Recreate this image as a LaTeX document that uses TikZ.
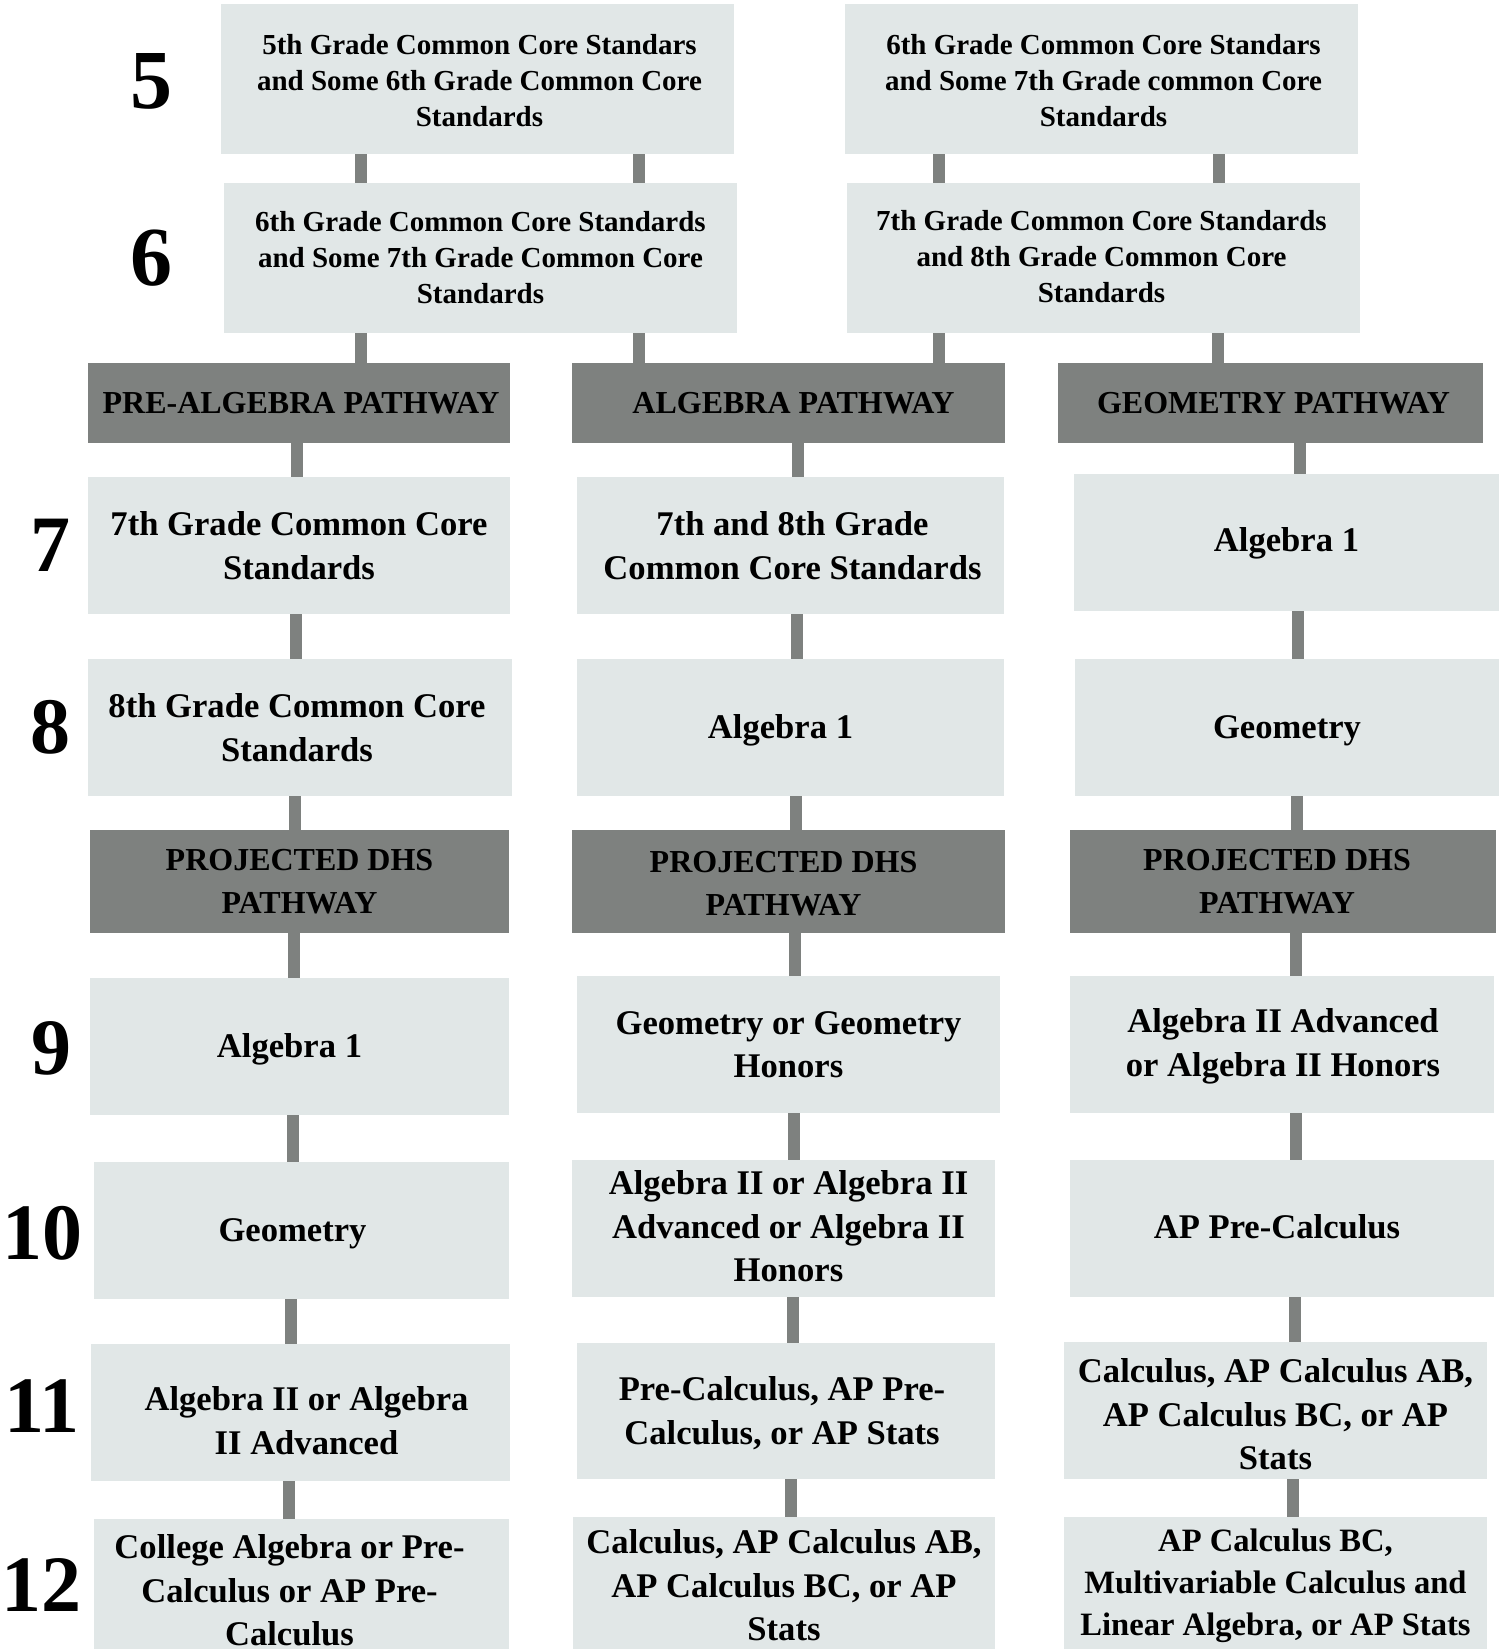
\documentclass[tikz,border=0pt]{standalone}
\usepackage{fontspec}
\setmainfont{Liberation Serif}
\definecolor{lightc}{HTML}{E1E7E7}
\definecolor{darkc}{HTML}{7E817F}
\tikzset{
  lbox/.style={fill=lightc, inner sep=0pt},
  dbox/.style={fill=darkc, inner sep=0pt},
  sfill/.style={lbox}, bfill/.style={lbox}, bsfill/.style={lbox}, hfill/.style={dbox},
  txt/.style={inner sep=0pt, align=center, text=black},
  stxt/.style={txt, font=\fontsize{14.5}{18}\selectfont\bfseries},
  btxt/.style={txt, font=\fontsize{17.3}{21.75}\selectfont\bfseries},
  bstxt/.style={txt, font=\fontsize{16.3}{21}\selectfont\bfseries},
  htxt/.style={txt, font=\fontsize{16}{21.5}\selectfont\bfseries},
  num/.style={inner sep=0pt, text=black, font=\fontsize{40}{40}\selectfont\bfseries},
  numl/.style={inner sep=0pt, text=black, font=\fontsize{42}{42}\selectfont\bfseries},
  conn/.style={draw=darkc, line width=6pt},
}
% \bx{name}{x1}{y1}{x2}{y2}{kind}{text}{dx}{dy}
\newcommand\bx[9]{%
  \node[#6fill, minimum width={(#4-#2)*0.5pt}, minimum height={(#5-#3)*0.5pt}] (#1) at ({(#2+#4)/2},{(#3+#5)/2}) {};
  \node[#6txt] (#1t) at ([shift={(#8,#9)}]#1.center) {#7};}
\newcommand\cn[3]{\path (#3,0) coordinate (cx); \draw[conn] (#1.south -| cx) -- (#2.north -| cx);}
\begin{document}
\begin{tikzpicture}[x=0.5pt, y=-0.5pt]
\useasboundingbox (0,0) rectangle (1502,1649);
\clip (0,0) rectangle (1502,1649);
% grade numbers
\node[numl] (n5) at (151,81) {5};
\node[numl] (n6) at (151,258) {6};
\node[num] (n7) at (51,545) {7};
\node[num] (n8) at (51,727) {8};
\node[num] (n9) at (52,1048) {9};
\node[num] (n10) at (43,1233) {10};
\node[num] (n11) at (42,1406) {11};
\node[num] (n12) at (42,1585) {12};
% rows 5 and 6
\bx{b5L}{221}{4}{734}{154}{s}{5th Grade Common Core Standars\\and Some 6th Grade Common Core\\Standards}{2}{2}
\bx{b5R}{845}{4}{1358}{154}{s}{6th Grade Common Core Standars\\and Some 7th Grade common Core\\Standards}{2}{2}
\bx{b6L}{224}{183}{737}{333}{s}{6th Grade Common Core Standards\\and Some 7th Grade Common Core\\Standards}{0}{0}
\bx{b6R}{847}{183}{1360}{333}{s}{7th Grade Common Core Standards\\and 8th Grade Common Core\\Standards}{-2}{-1}
% pathway headers
\bx{h1}{88}{363}{510}{443}{h}{PRE-ALGEBRA PATHWAY}{2}{0}
\bx{h2}{572}{363}{1005}{443}{h}{ALGEBRA PATHWAY}{5}{0}
\bx{h3}{1058}{363}{1483}{443}{h}{GEOMETRY PATHWAY}{3}{0}
% row 7
\bx{r7a}{88}{477}{510}{614}{b}{7th Grade Common Core\\Standards}{0}{0}
\bx{r7b}{577}{477}{1004}{614}{b}{7th and 8th Grade\\Common Core Standards}{2}{0}
\bx{r7c}{1074}{474}{1499}{611}{b}{Algebra 1}{0}{1}
% row 8
\bx{r8a}{88}{659}{512}{796}{b}{8th Grade Common Core\\Standards}{-3}{0}
\bx{r8b}{577}{659}{1004}{796}{b}{Algebra 1}{-10}{3}
\bx{r8c}{1075}{659}{1499}{796}{b}{Geometry}{0}{3}
% projected
\bx{p1}{90}{830}{509}{933}{h}{PROJECTED DHS\\PATHWAY}{0}{0}
\bx{p2}{572}{830}{1005}{933}{h}{PROJECTED DHS\\PATHWAY}{-5}{2}
\bx{p3}{1070}{830}{1496}{933}{h}{PROJECTED DHS\\PATHWAY}{-6}{0}
% row 9
\bx{r9a}{90}{978}{509}{1115}{b}{Algebra 1}{-10}{3}
\bx{r9b}{577}{976}{1000}{1113}{b}{Geometry or Geometry\\Honors}{0}{0}
\bx{r9c}{1070}{976}{1494}{1113}{b}{Algebra II Advanced\\or Algebra II Honors}{1}{2}
% row 10
\bx{r10a}{94}{1162}{509}{1299}{b}{Geometry}{-9}{3}
\bx{r10b}{572}{1160}{995}{1297}{b}{Algebra II or Algebra II\\Advanced or Algebra II\\Honors}{5}{-2}
\bx{r10c}{1070}{1160}{1494}{1297}{b}{AP Pre-Calculus}{-5}{-2}
% row 11
\bx{r11a}{91}{1344}{510}{1481}{b}{Algebra II or Algebra\\II Advanced}{6}{8}
\bx{r11b}{577}{1343}{995}{1479}{b}{Pre-Calculus, AP Pre-\\Calculus, or AP Stats}{-4}{2}
\bx{r11c}{1064}{1342}{1487}{1479}{b}{Calculus, AP Calculus AB,\\AP Calculus BC, or AP\\Stats}{0}{4}
% row 12
\bx{r12a}{94}{1519}{509}{1656}{b}{College Algebra or Pre-\\Calculus or AP Pre-\\Calculus}{-12}{3}
\bx{r12b}{573}{1517}{995}{1654}{b}{Calculus, AP Calculus AB,\\AP Calculus BC, or AP\\Stats}{0}{0}
\bx{r12c}{1064}{1517}{1487}{1654}{bs}{AP Calculus BC,\\Multivariable Calculus and\\Linear Algebra, or AP Stats}{0}{0}
% connectors
\cn{b5L}{b6L}{361}
\cn{b5L}{b6L}{639}
\cn{b5R}{b6R}{939}
\cn{b5R}{b6R}{1219}
\cn{b6L}{h1}{361}
\cn{b6L}{h2}{639}
\cn{b6R}{h2}{939}
\cn{b6R}{h3}{1218}
\cn{h1}{r7a}{297}
\cn{r7a}{r8a}{296}
\cn{r8a}{p1}{295}
\cn{p1}{r9a}{294}
\cn{r9a}{r10a}{293}
\cn{r10a}{r11a}{291}
\cn{r11a}{r12a}{289}
\cn{h2}{r7b}{798}
\cn{r7b}{r8b}{797}
\cn{r8b}{p2}{796}
\cn{p2}{r9b}{795}
\cn{r9b}{r10b}{794}
\cn{r10b}{r11b}{793}
\cn{r11b}{r12b}{791}
\cn{h3}{r7c}{1300}
\cn{r7c}{r8c}{1298}
\cn{r8c}{p3}{1297}
\cn{p3}{r9c}{1296}
\cn{r9c}{r10c}{1296}
\cn{r10c}{r11c}{1295}
\cn{r11c}{r12c}{1293}
\end{tikzpicture}
\end{document}
